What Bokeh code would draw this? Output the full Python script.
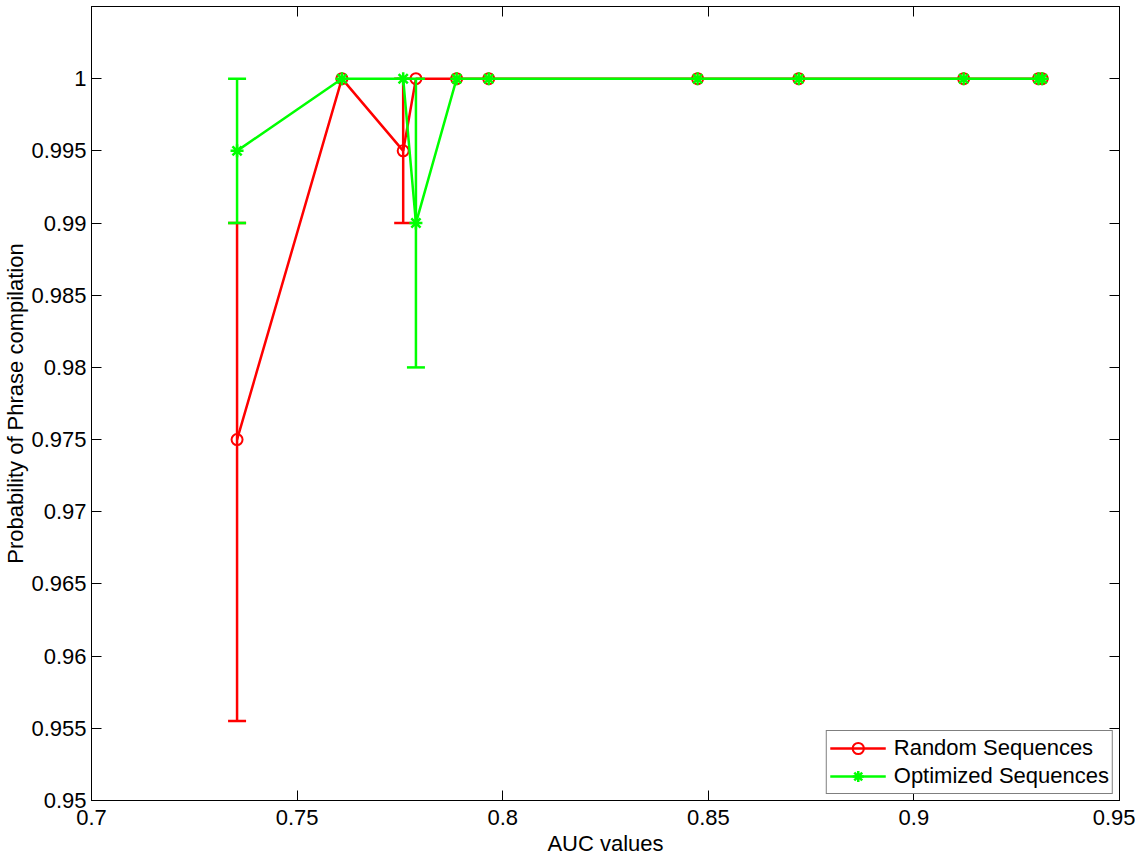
from bokeh.plotting import figure
from bokeh.models import LinearAxis, FixedTicker, ColumnDataSource, Legend, LegendItem, Range1d
from bokeh.embed import file_html
from bokeh.resources import INLINE

# ---- data ----
auc_values = [0.7354, 0.7609, 0.7758, 0.7789, 0.7888, 0.7966, 0.8474, 0.8720, 0.9121, 0.9303, 0.9312]
random_mean = [0.975, 1.0, 0.995, 1.0, 1.0, 1.0, 1.0, 1.0, 1.0, 1.0, 1.0]
random_err_low = [0.0195, 0.0, 0.005, 0.0, 0.0, 0.0, 0.0, 0.0, 0.0, 0.0, 0.0]
random_err_high = [0.015, 0.0, 0.005, 0.0, 0.0, 0.0, 0.0, 0.0, 0.0, 0.0, 0.0]
optimized_mean = [0.995, 1.0, 1.0, 0.99, 1.0, 1.0, 1.0, 1.0, 1.0, 1.0, 1.0]
optimized_err_low = [0.005, 0.0, 0.0, 0.01, 0.0, 0.0, 0.0, 0.0, 0.0, 0.0, 0.0]
optimized_err_high = [0.005, 0.0, 0.0, 0.01, 0.0, 0.0, 0.0, 0.0, 0.0, 0.0, 0.0]

series_names = ["Random Sequences", "Optimized Sequences"]
x_ticks = [0.7, 0.75, 0.8, 0.85, 0.9, 0.95]
x_tick_labels = ["0.7", "0.75", "0.8", "0.85", "0.9", "0.95"]
y_ticks = [0.95, 0.955, 0.96, 0.965, 0.97, 0.975, 0.98, 0.985, 0.99, 0.995, 1.0]
y_tick_labels = ["0.95", "0.955", "0.96", "0.965", "0.97", "0.975", "0.98", "0.985", "0.99", "0.995", "1"]

FONT = "Liberation Sans"
FS = "22px"

p = figure(frame_width=1028, frame_height=794,
           x_range=Range1d(0.7, 0.95), y_range=Range1d(0.95, 1.005),
           output_backend="svg", toolbar_location=None,
           min_border_left=84, min_border_right=16, min_border_top=6, min_border_bottom=0,
           background_fill_color="white", border_fill_color="white")
p.xgrid.visible = False
p.ygrid.visible = False
p.outline_line_color = "black"
p.outline_line_width = 1


def style_axis(ax, ticks, labels, show_labels=True):
    ax.ticker = FixedTicker(ticks=ticks)
    if show_labels:
        ax.major_label_overrides = {t: l for t, l in zip(ticks, labels)}
    else:
        ax.major_label_overrides = {t: "" for t in ticks}
    ax.major_tick_in = 10
    ax.major_tick_out = 0
    ax.minor_tick_in = 0
    ax.minor_tick_out = 0
    ax.axis_line_color = "black"
    ax.major_tick_line_color = "black"
    ax.major_label_text_font = FONT
    ax.major_label_text_font_size = FS if show_labels else "1px"
    ax.major_label_text_color = "black"
    ax.axis_label_text_font = FONT
    ax.axis_label_text_font_size = FS
    ax.axis_label_text_font_style = "normal"
    ax.axis_label_text_color = "black"
    if not show_labels:
        ax.major_label_standoff = 0


style_axis(p.xaxis[0], x_ticks, x_tick_labels)
style_axis(p.yaxis[0], y_ticks, y_tick_labels)
p.xaxis[0].axis_label = "AUC values"
p.yaxis[0].axis_label = "Probability of Phrase compilation"
p.xaxis[0].major_label_standoff = 9
p.xaxis[0].axis_label_standoff = 3
p.yaxis[0].major_label_standoff = 5
p.yaxis[0].axis_label_standoff = 0

top_axis = LinearAxis()
style_axis(top_axis, x_ticks, x_tick_labels, show_labels=False)
p.add_layout(top_axis, "above")
right_axis = LinearAxis()
style_axis(right_axis, y_ticks, y_tick_labels, show_labels=False)
p.add_layout(right_axis, "right")


def draw_series(mean, err_low, err_high, color, marker):
    src = ColumnDataSource(dict(x=auc_values, y=mean))
    keep = [i for i in range(len(mean)) if err_low[i] > 0 or err_high[i] > 0]
    eb = ColumnDataSource(dict(x=[auc_values[i] for i in keep],
                               lo=[mean[i] - err_low[i] for i in keep],
                               hi=[mean[i] + err_high[i] for i in keep]))
    p.segment(x0="x", y0="lo", x1="x", y1="hi", source=eb, line_color=color, line_width=2.5)
    p.scatter(x="x", y="lo", source=eb, marker="dash", size=18, line_color=color, line_width=2.5)
    p.scatter(x="x", y="hi", source=eb, marker="dash", size=18, line_color=color, line_width=2.5)
    ln = p.line(x="x", y="y", source=src, line_color=color, line_width=2.5)
    if marker == "circle":
        mk = p.scatter(x="x", y="y", source=src, marker="circle", size=11,
                       line_color=color, line_width=2, fill_color=None)
    else:
        mk = p.scatter(x="x", y="y", source=src, marker="asterisk", size=13,
                       line_color=color, line_width=2.5)
    return ln, mk


r_ln, r_mk = draw_series(random_mean, random_err_low, random_err_high, "#FF0000", "circle")
o_ln, o_mk = draw_series(optimized_mean, optimized_err_low, optimized_err_high, "#00FF00", "asterisk")

legend = Legend(items=[LegendItem(label=series_names[0], renderers=[r_ln, r_mk]),
                       LegendItem(label=series_names[1], renderers=[o_ln, o_mk])],
                location="bottom_right")
legend.margin = 6
legend.padding = 3
legend.spacing = 0
legend.label_height = 28
legend.glyph_height = 28
legend.glyph_width = 56
legend.label_standoff = 8
legend.label_text_font = FONT
legend.label_text_font_size = FS
legend.label_text_color = "black"
legend.border_line_color = "black"
legend.border_line_width = 1
legend.background_fill_color = "white"
legend.background_fill_alpha = 1.0
p.add_layout(legend, "center")

open("out.html", "w").write(file_html(p, INLINE))
